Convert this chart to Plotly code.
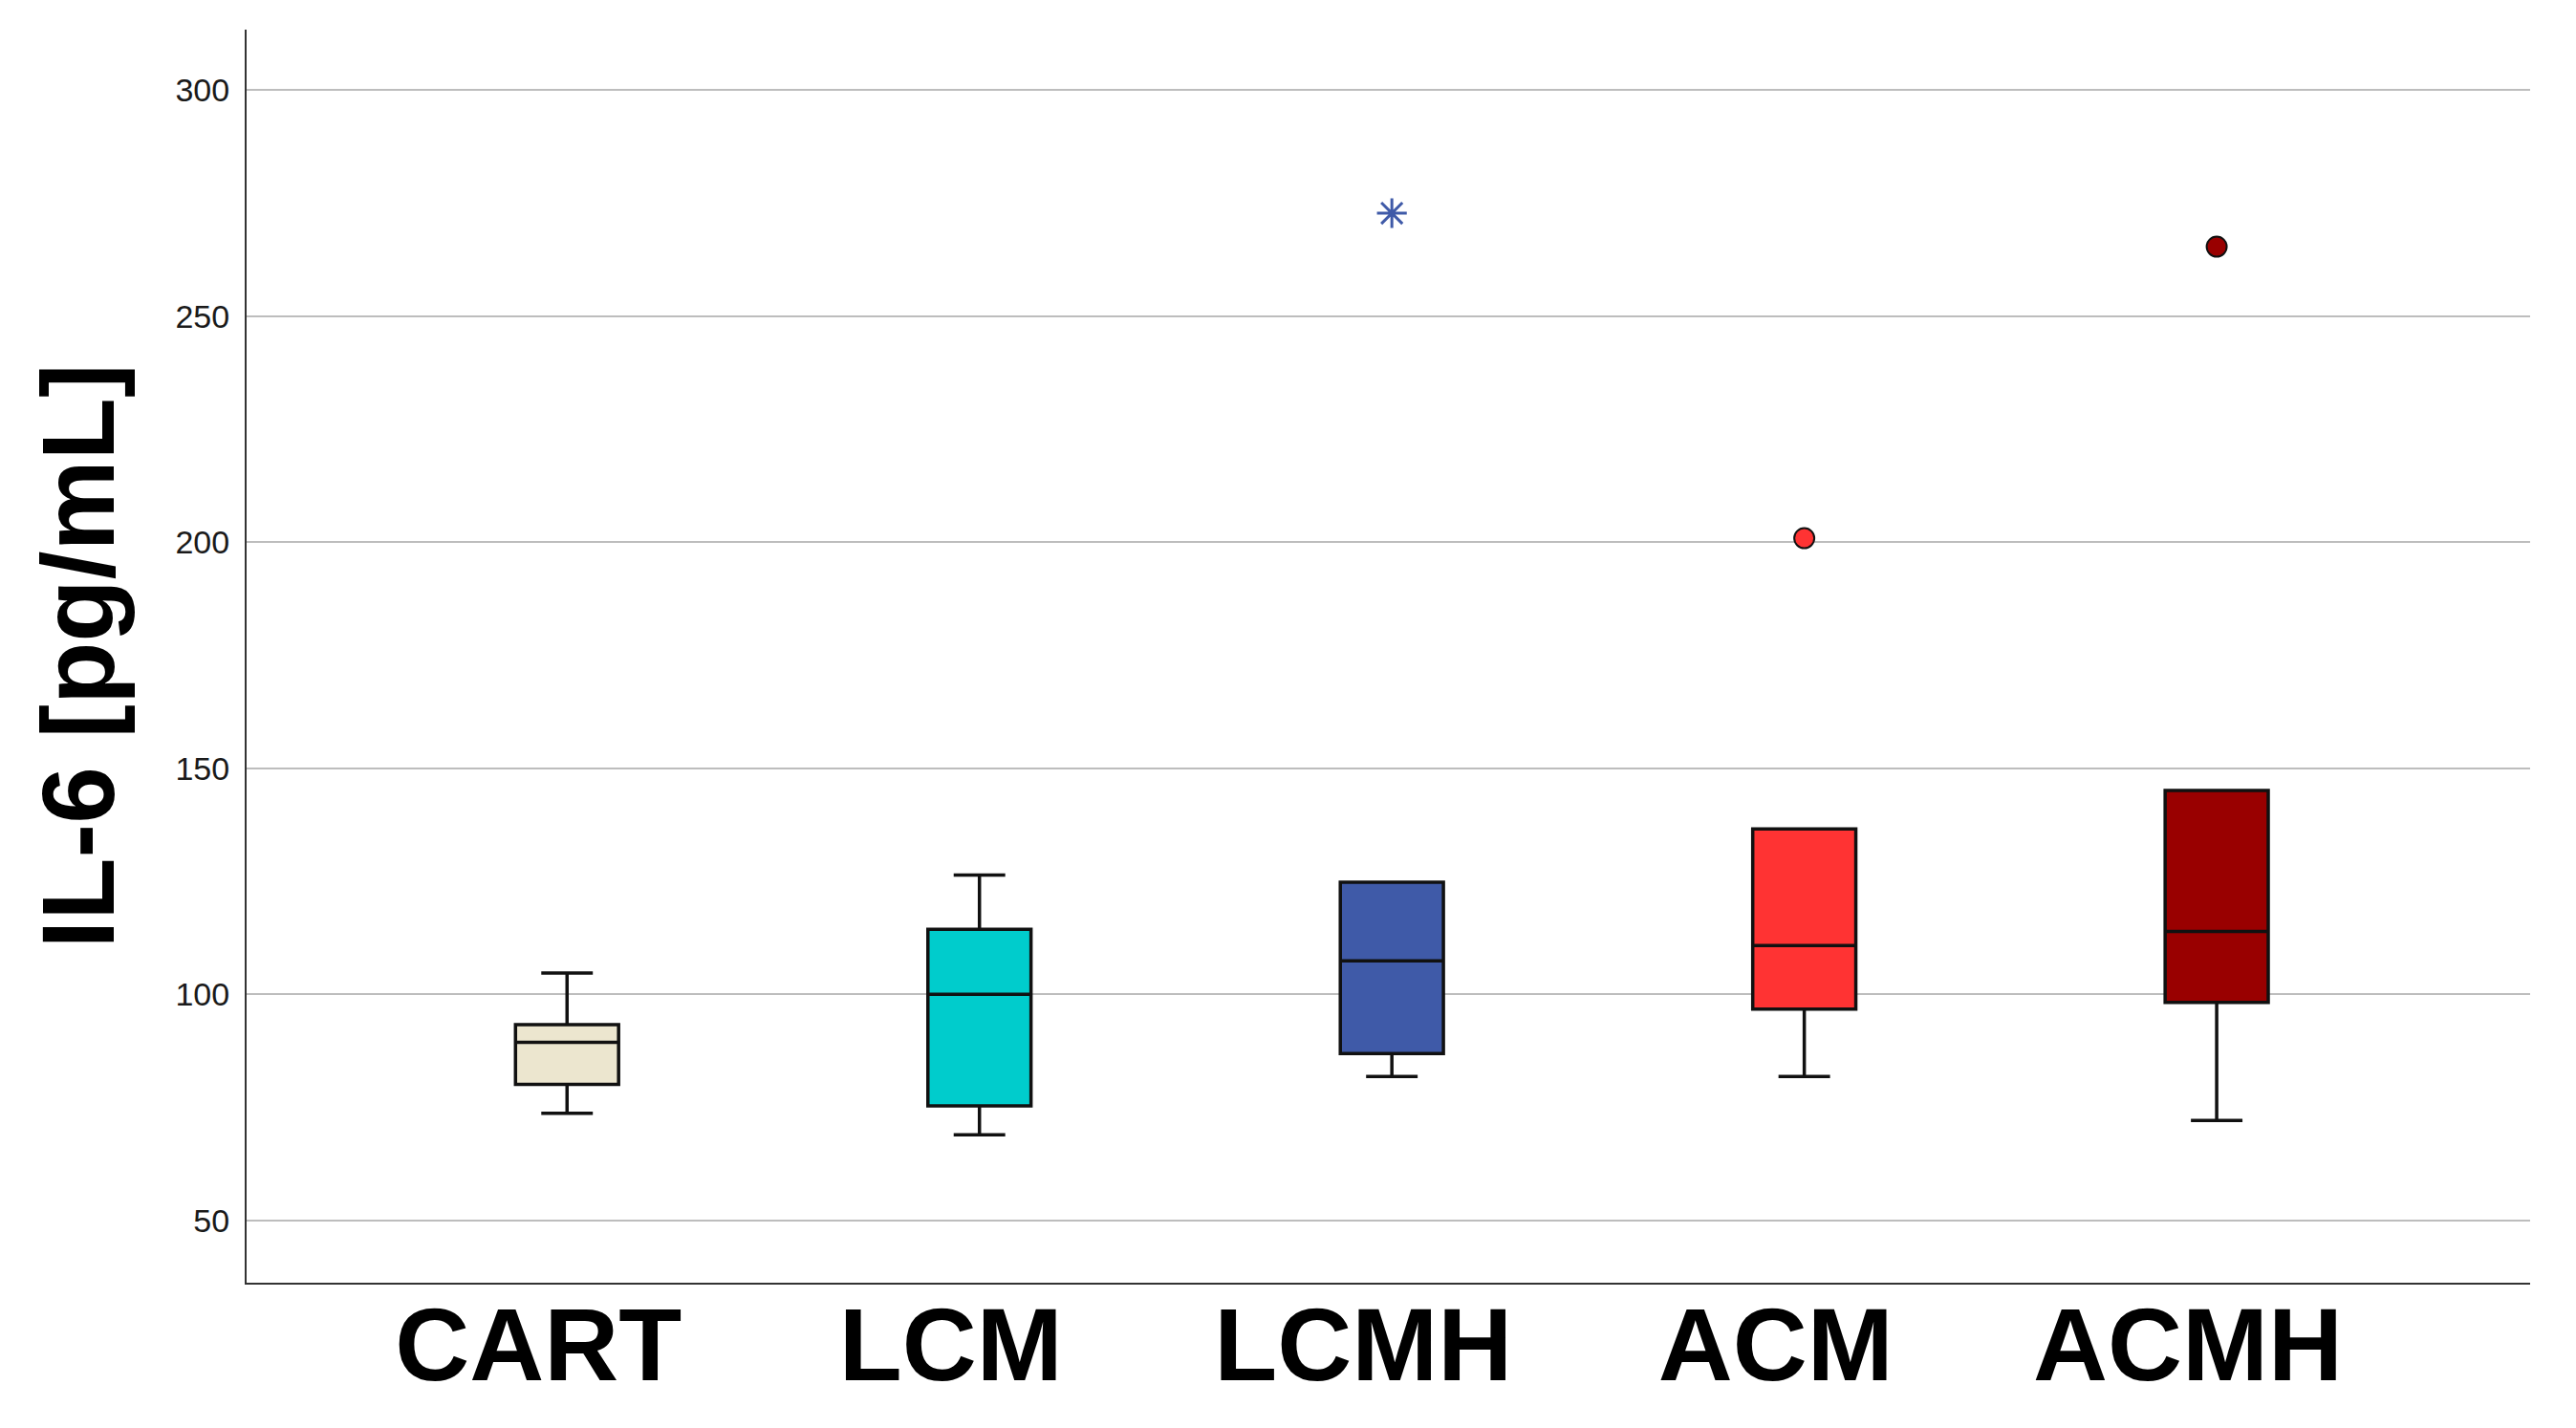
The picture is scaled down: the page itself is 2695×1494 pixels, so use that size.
import plotly.graph_objects as go

categories = ["CART", "LCM", "LCMH", "ACM", "ACMH"]
lower_whisker = [73.7, 68.9, 81.8, 81.8, 72.1]
q1_vals = [80.1, 75.3, 86.9, 96.7, 98.2]
median_vals = [89.4, 100.0, 107.4, 110.8, 113.9]
q3_vals = [93.3, 114.4, 124.8, 136.6, 145.1]
upper_whisker = [104.7, 126.4, 124.8, 136.6, 145.1]
box_colors = ["#ECE6CF", "#00CCCC", "#3F5AA8", "#FF3333", "#990000"]

# outliers
outlier_groups = ["ACM", "ACMH"]
outlier_values = [200.9, 265.4]
outlier_colors = ["#FF3333", "#990000"]
extreme_groups = ["LCMH"]
extreme_values = [272.8]

y_ticks = [50, 100, 150, 200, 250, 300]

fig = go.Figure()
for i, cat in enumerate(categories):
    fig.add_trace(go.Box(
        x=[cat],
        q1=[q1_vals[i]], median=[median_vals[i]], q3=[q3_vals[i]],
        lowerfence=[lower_whisker[i]], upperfence=[upper_whisker[i]],
        fillcolor=box_colors[i],
        line=dict(color="#111111", width=3.5),
        width=0.25, whiskerwidth=0.5,
        boxpoints=False, showlegend=False, hoverinfo="skip",
    ))

fig.add_trace(go.Scatter(
    x=outlier_groups, y=outlier_values, mode="markers",
    marker=dict(symbol="circle", size=21, color=outlier_colors,
                line=dict(color="#111111", width=2)),
    showlegend=False, hoverinfo="skip",
))
fig.add_trace(go.Scatter(
    x=extreme_groups, y=extreme_values, mode="markers",
    marker=dict(symbol="asterisk-open", size=26, color="#3F5AA8",
                line=dict(color="#3F5AA8", width=3)),
    showlegend=False, hoverinfo="skip",
))

fig.update_layout(
    width=2687, height=1486,
    paper_bgcolor="white", plot_bgcolor="white",
    margin=dict(l=250, r=48, t=23, b=152),
    font=dict(family="Liberation Sans, Arial, sans-serif", color="#111111"),
    xaxis=dict(
        type="category", categoryorder="array", categoryarray=categories,
        range=[-0.777, 4.76], automargin=False,
        showline=True, linecolor="#333333", linewidth=2,
        showgrid=False, ticks="", zeroline=False,
        tickfont=dict(size=108, family="Liberation Sans, Arial, sans-serif", color="#000000"),
        tickprefix="<b>", ticksuffix="</b>\u00a0\u00a0",
        ticklabelstandoff=-30,
    ),
    yaxis=dict(
        range=[36.2, 313.4], automargin=False,
        tickvals=y_ticks,
        showline=True, linecolor="#333333", linewidth=2,
        showgrid=True, gridcolor="#BDBDBD", gridwidth=2,
        zeroline=False, ticks="",
        tickfont=dict(size=34, color="#1a1a1a"),
        ticklabelstandoff=9,
        title=dict(text="<b>IL-6 [pg/mL]</b>",
                   font=dict(size=107, color="#000000"),
                   standoff=28),
    ),
)

fig.write_html("out.html")
